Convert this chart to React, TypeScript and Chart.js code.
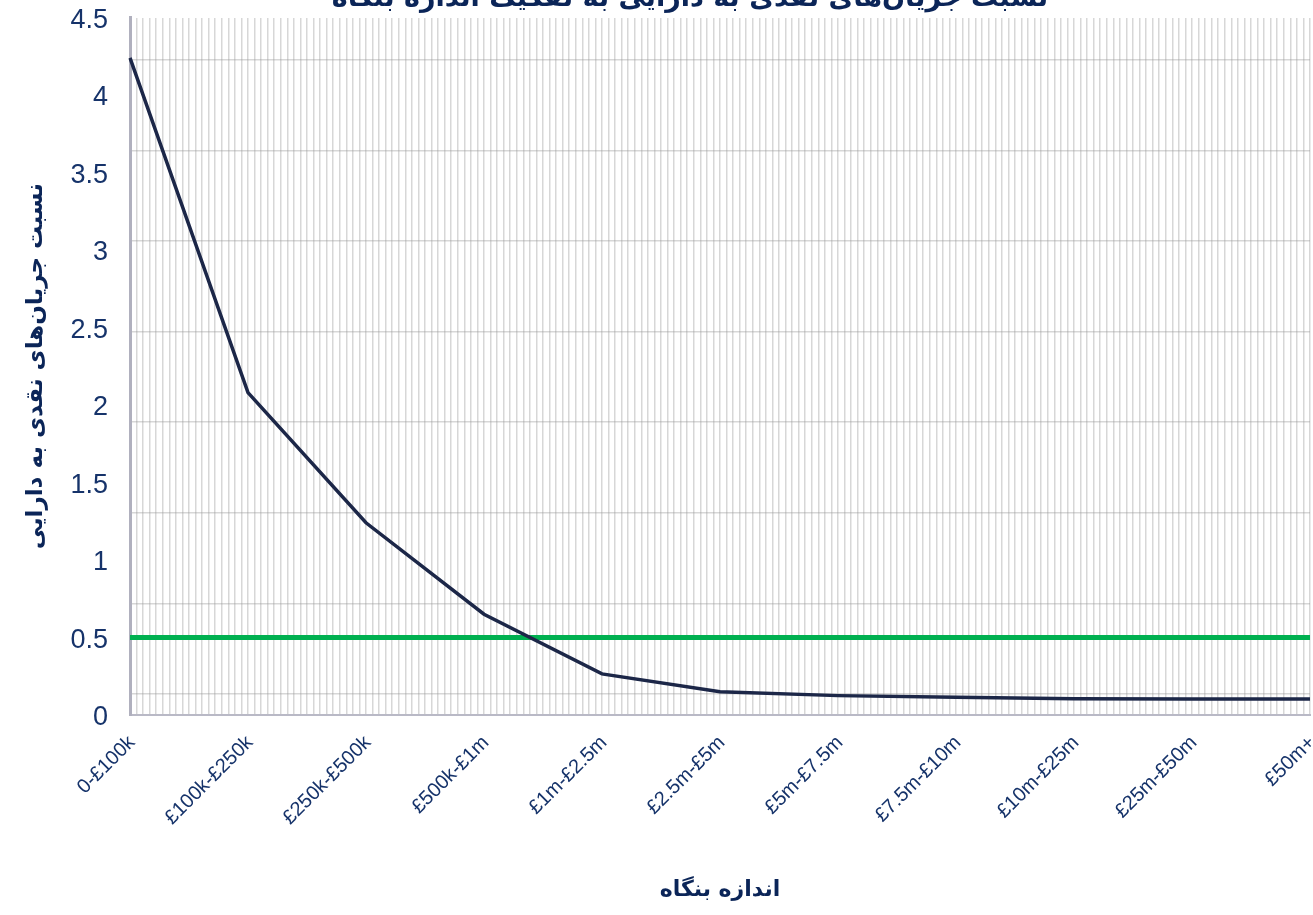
import React, { useEffect, useRef } from 'react';
import { Chart, registerables } from 'chart.js';

Chart.register(...registerables);

// ---- data ----
const categories = [
  '0-£100k',
  '£100k-£250k',
  '£250k-£500k',
  '£500k-£1m',
  '£1m-£2.5m',
  '£2.5m-£5m',
  '£5m-£7.5m',
  '£7.5m-£10m',
  '£10m-£25m',
  '£25m-£50m',
  '£50m+',
];
const cashFlowRatio = [4.24, 2.08, 1.24, 0.65, 0.265, 0.15, 0.125, 0.115, 0.105, 0.103, 0.103];
const thresholdValues = [0.5, 0.5, 0.5, 0.5, 0.5, 0.5, 0.5, 0.5, 0.5, 0.5, 0.5];
const yTickValues = [0, 0.5, 1, 1.5, 2, 2.5, 3, 3.5, 4, 4.5];
const yTickLabels = ['0', '0.5', '1', '1.5', '2', '2.5', '3', '3.5', '4', '4.5'];
const horizontalGridValues = [0, 1, 2, 3, 4, 5, 6, 7];
const verticalGridCount = 180;

const chartTitle = 'نسبت جریان‌های نقدی به دارایی به تفکیک اندازه بنگاه';
const yAxisTitle = 'نسبت جریان‌های نقدی به دارایی';
const xAxisTitle = 'اندازه بنگاه';

const NAVY = '#16336a';
const TITLE_NAVY = '#0b2558';
const GRID = 'rgba(150,150,150,0.38)';

const topTitlePlugin = {
  id: 'cutTitle',
  afterDraw(chart: any) {
    const ctx = chart.ctx;
    ctx.save();
    ctx.font = 'bold 27px "DejaVu Sans"';
    ctx.fillStyle = TITLE_NAVY;
    ctx.textAlign = 'center';
    ctx.textBaseline = 'alphabetic';
    ctx.fillText(chartTitle, 690, 6);
    ctx.restore();
  },
};

export default function App() {
  const canvasRef = useRef<HTMLCanvasElement | null>(null);

  useEffect(() => {
    document.body.style.margin = '0';
    const canvas = canvasRef.current;
    if (!canvas) return;
    const chart = new Chart(canvas, {
      type: 'line',
      data: {
        labels: categories,
        datasets: [
          {
            label: 'cash flow / assets',
            data: cashFlowRatio,
            borderColor: '#1c2748',
            borderWidth: 3.5,
            pointRadius: 0,
            tension: 0,
            fill: false,
            xAxisID: 'x',
            yAxisID: 'y',
          },
          {
            label: 'threshold',
            data: thresholdValues,
            borderColor: '#00b050',
            borderWidth: 5,
            pointRadius: 0,
            tension: 0,
            fill: false,
            xAxisID: 'x',
            yAxisID: 'y',
          },
        ],
      },
      options: {
        responsive: false,
        animation: false,
        layout: { padding: { top: 17.5, right: 3, left: 0, bottom: 0 } },
        plugins: {
          legend: { display: false },
          title: { display: false },
          tooltip: { enabled: false },
        },
        scales: {
          x: {
            type: 'category',
            position: 'bottom',
            grid: { display: false, drawTicks: false },
            border: { display: true, color: '#b9b9c6', width: 2 },
            ticks: {
              autoSkip: false,
              minRotation: 45,
              maxRotation: 45,
              padding: 16,
              labelOffset: 2,
              color: NAVY,
              font: { family: '"Liberation Sans", Arial, sans-serif', size: 20 },
            },
            title: {
              display: true,
              text: xAxisTitle,
              color: TITLE_NAVY,
              font: { family: '"DejaVu Sans"', size: 22, weight: 'bold' },
              padding: { top: 0, bottom: 12 },
            },
            afterFit: (s: any) => {
              s.height = 200;
              s.paddingLeft = 0;
              s.paddingRight = 0;
            },
          },
          x2: {
            type: 'linear',
            position: 'top',
            min: 0,
            max: verticalGridCount,
            afterBuildTicks: (s: any) => {
              const t = [];
              for (let i = 0; i <= verticalGridCount; i++) t.push({ value: i });
              s.ticks = t;
            },
            grid: { color: GRID, lineWidth: 1.5, drawTicks: false },
            border: { display: false },
            ticks: { display: false },
            afterFit: (s: any) => {
              s.height = 0;
              s.paddingLeft = 0;
              s.paddingRight = 0;
            },
          },
          y: {
            type: 'linear',
            position: 'left',
            min: 0,
            max: 4.5,
            afterBuildTicks: (s: any) => {
              s.ticks = yTickValues.map((v) => ({ value: v }));
            },
            grid: { display: false, drawTicks: false },
            border: { display: true, color: '#b0b0be', width: 3 },
            ticks: {
              padding: 22,
              labelOffset: 3,
              color: NAVY,
              font: { family: '"Liberation Sans", Arial, sans-serif', size: 27 },
              callback: (_v: any, i: number) => yTickLabels[i],
            },
            title: {
              display: true,
              text: yAxisTitle,
              color: TITLE_NAVY,
              font: { family: '"DejaVu Sans"', size: 23, weight: 'bold' },
              padding: { top: 22, bottom: 0 },
            },
            afterFit: (s: any) => {
              s.width = 130;
              s.paddingTop = 0;
              s.paddingBottom = 0;
            },
          },
          y2: {
            type: 'linear',
            position: 'right',
            min: -0.232,
            max: 7.467,
            afterBuildTicks: (s: any) => {
              s.ticks = horizontalGridValues.map((v) => ({ value: v }));
            },
            grid: { color: GRID, lineWidth: 1.5, drawTicks: false },
            border: { display: false },
            ticks: { display: false },
            afterFit: (s: any) => {
              s.width = 0;
              s.paddingTop = 0;
              s.paddingBottom = 0;
            },
          },
        },
      } as any,
      plugins: [topTitlePlugin],
    });
    return () => chart.destroy();
  }, []);

  return (
    <div style={{ width: 1313, height: 915, background: '#ffffff' }}>
      <canvas ref={canvasRef} width={1313} height={915} style={{ display: 'block' }} />
    </div>
  );
}
